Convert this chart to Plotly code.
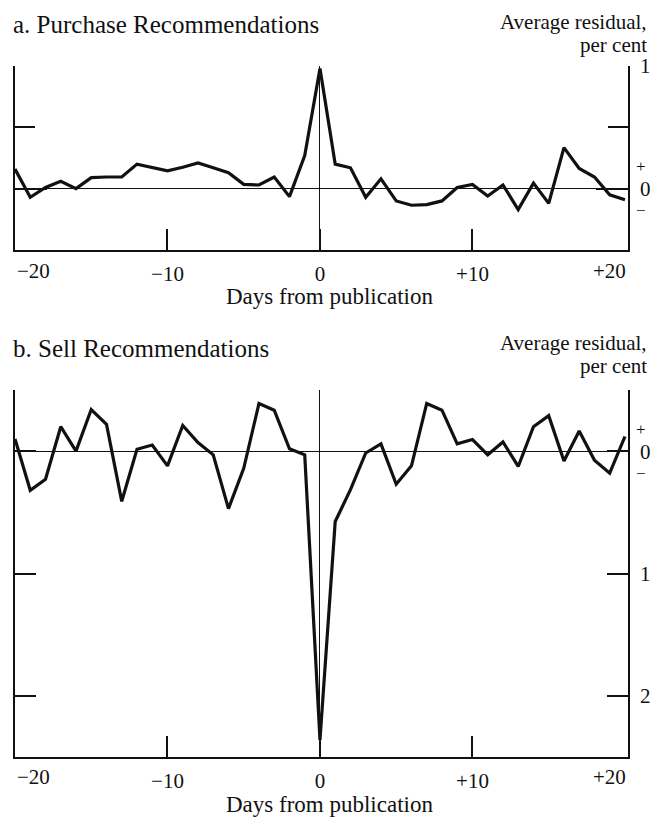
import plotly.graph_objects as go

# ---------------- data ----------------
days = list(range(-20, 21))

purchase_residual = [
    0.16, -0.07, 0.01, 0.06, 0.00, 0.09, 0.095, 0.095, 0.20, 0.175,
    0.145, 0.175, 0.21, 0.17, 0.13, 0.035, 0.03, 0.095, -0.065, 0.27,
    0.98,
    0.20, 0.17, -0.07, 0.08, -0.10, -0.135, -0.13, -0.10, 0.01, 0.035,
    -0.06, 0.03, -0.17, 0.045, -0.12, 0.335, 0.165, 0.095, -0.05, -0.09,
]

sell_residual = [
    0.10, -0.32, -0.23, 0.20, 0.00, 0.34, 0.22, -0.41, 0.015, 0.05,
    -0.12, 0.21, 0.07, -0.03, -0.47, -0.14, 0.39, 0.335, 0.02, -0.03,
    -2.36,
    -0.575, -0.315, -0.015, 0.06, -0.27, -0.12, 0.39, 0.335, 0.06, 0.095,
    -0.03, 0.075, -0.125, 0.20, 0.29, -0.08, 0.165, -0.075, -0.18, 0.12,
]

x_tick_vals = [-10, 0, 10]
x_tick_text = ["\u221210", "0", "+10"]
x_edge_labels = ["\u221220", "+20"]

purchase_y_ticks = [0, 1]
purchase_y_text = ["0", "1"]
sell_y_ticks = [0, -1, -2]
sell_y_text = ["0", "1", "2"]

titles = ["a. Purchase Recommendations", "b. Sell Recommendations"]
unit_lines = ["Average residual,", "per cent"]
x_title = "Days from publication"

# ---------------- styling ----------------
FONT = "Liberation Serif"
INK = "#111111"
W, H = 652, 823

def py(px):
    return 1 - px / H

x_domain = [15 / W, 628 / W]
dom_a = [py(250), py(66)]
dom_b = [py(757), py(390)]

fig = go.Figure()
fig.add_trace(go.Scatter(x=days, y=purchase_residual, mode="lines",
                         line=dict(color=INK, width=3.2),
                         xaxis="x", yaxis="y", showlegend=False, hoverinfo="skip"))
fig.add_trace(go.Scatter(x=days, y=sell_residual, mode="lines",
                         line=dict(color=INK, width=3.2),
                         xaxis="x2", yaxis="y2", showlegend=False, hoverinfo="skip"))

tickfont = dict(family=FONT, size=21, color=INK)

def xaxis(anchor):
    return dict(domain=x_domain, anchor=anchor, range=[-20, 20.2],
                showgrid=False, showline=True, linecolor=INK, linewidth=1.5,
                ticks="inside", ticklen=21, tickwidth=1.5, tickcolor=INK,
                tickmode="array", tickvals=x_tick_vals, ticktext=x_tick_text,
                zeroline=True, zerolinecolor=INK, zerolinewidth=1.2,
                tickfont=tickfont, ticklabelstandoff=4, fixedrange=True,
                automargin=False)

def yaxis(anchor, dom, rng, tv, tt, major_len, minor_vals, minor_len):
    return dict(domain=dom, anchor=anchor, range=rng, side="right",
                showgrid=False, showline=True, mirror="ticks",
                linecolor=INK, linewidth=1.5,
                ticks="inside", ticklen=major_len, tickwidth=1.5, tickcolor=INK,
                tickmode="array", tickvals=tv, ticktext=tt,
                minor=dict(tickmode="array", tickvals=minor_vals, ticks="inside",
                           ticklen=minor_len, tickwidth=1.5, tickcolor=INK),
                zeroline=True, zerolinecolor=INK, zerolinewidth=1.2,
                tickfont=tickfont, ticklabelstandoff=6, fixedrange=True,
                automargin=False)

annotations = []

def add_text(text, x, y, size, xanchor="left", **kw):
    annotations.append(dict(text=text, x=x, y=y, xref=kw.pop("xref", "paper"),
                            yref=kw.pop("yref", "paper"), xanchor=xanchor,
                            yanchor=kw.pop("yanchor", "middle"), showarrow=False,
                            font=dict(family=FONT, size=size, color=INK), **kw))

# panel titles and unit labels
add_text(titles[0], 11 / W, py(24.5), 25)
add_text(titles[1], 11 / W, py(348.5), 25)
add_text(unit_lines[0], 649 / W, py(21.5), 21, xanchor="right")
add_text(unit_lines[1], 649 / W, py(45), 21, xanchor="right")
add_text(unit_lines[0], 649 / W, py(342.5), 21, xanchor="right")
add_text(unit_lines[1], 649 / W, py(366), 21, xanchor="right")

# x titles
add_text(x_title, 329 / W, py(296), 23, xanchor="center")
add_text(x_title, 329 / W, py(804), 23, xanchor="center")

# edge x labels (-20 left-aligned, +20 right-aligned)
for xr, yr, ysh in [("x", "y domain", -21), ("x2", "y2 domain", -20)]:
    add_text(x_edge_labels[0], -20, 0, 21, xanchor="left", xref=xr, yref=yr, yshift=ysh)
    add_text(x_edge_labels[1], 1, 0, 21, xanchor="right", xref=xr + " domain", yref=yr, yshift=ysh)

# + / - markers around zero on the right
for xr, yr in [("x domain", "y"), ("x2 domain", "y2")]:
    add_text("+", 1, 0, 17, xanchor="center", xref=xr, yref=yr, xshift=13, yshift=22)
    add_text("\u2212", 1, 0, 17, xanchor="center", xref=xr, yref=yr, xshift=13, yshift=-22)

fig.update_layout(
    width=W, height=H, autosize=False,
    margin=dict(l=0, r=0, t=0, b=0, pad=0, autoexpand=False),
    paper_bgcolor="white", plot_bgcolor="white",
    font=dict(family=FONT, color=INK),
    xaxis=xaxis("y"),
    yaxis=yaxis("x", dom_a, [-0.5, 1.0], purchase_y_ticks, purchase_y_text, 32, [0.5], 20),
    xaxis2=xaxis("y2"),
    yaxis2=yaxis("x2", dom_b, [-2.5, 0.5], sell_y_ticks, sell_y_text, 21, [0.5], 31),
    annotations=annotations,
    showlegend=False,
)

fig.write_html(
    "out.html",
    config={"displayModeBar": False},
    post_script=(
        "document.documentElement.style.margin='0';"
        "document.body.style.margin='0';"
        "document.body.style.padding='0';"
        "document.documentElement.style.overflow='hidden';"
        "document.body.style.overflow='hidden';"
    ),
)
